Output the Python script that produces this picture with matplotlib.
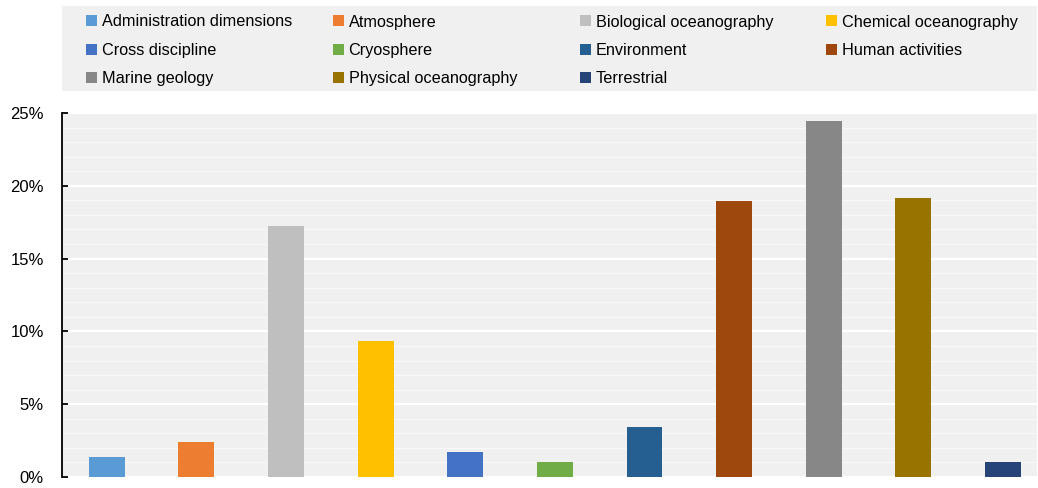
import matplotlib
matplotlib.use("Agg")
import matplotlib.pyplot as plt
from matplotlib.patches import Rectangle
from matplotlib.ticker import MultipleLocator, FuncFormatter

plt.rcParams["font.family"] = ["Liberation Sans", "DejaVu Sans"]

categorias = ["Administration dimensions", "Atmosphere", "Biological oceanography",
              "Chemical oceanography", "Cross discipline", "Cryosphere", "Environment",
              "Human activities", "Marine geology", "Physical oceanography", "Terrestrial"]
valores = [1.37, 2.4, 17.24, 9.34, 1.72, 1.03, 3.43, 18.96, 24.45, 19.16, 1.03]
colores = ["#5B9BD5", "#ED7D31", "#BFBFBF", "#FFC000", "#4472C4", "#70AD47",
           "#255E91", "#9E480E", "#878787", "#997300", "#264478"]

W, H = 1038, 488
fig = plt.figure(figsize=(W / 100, H / 100), dpi=100)
ax = fig.add_axes([62 / W, 1 - 477 / H, (1037 - 62) / W, (477 - 113) / H])

fondo = "#F0F0F0"
ax.set_facecolor(fondo)
barras = ax.bar(range(len(valores)), valores, width=0.40, color=colores, zorder=3)

ax.set_xlim(-0.5, 10.38)
ax.set_ylim(0, 25)
ax.yaxis.set_major_locator(MultipleLocator(5))
ax.yaxis.set_minor_locator(MultipleLocator(1))
ax.yaxis.set_major_formatter(FuncFormatter(lambda v, p: f"{v:.0f}%"))
ax.grid(which="major", axis="y", color="white", linewidth=1.6, zorder=1)
ax.grid(which="minor", axis="y", color="#F8F8F8", linewidth=1.0, zorder=1)
ax.set_axisbelow(True)
ax.set_xticks([])
for lado in ["top", "right", "bottom"]:
    ax.spines[lado].set_visible(False)
ax.spines["left"].set_linewidth(1.3)
ax.tick_params(axis="y", which="major", direction="in", length=4.5, width=1.3,
               labelsize=12, pad=13, colors="black")
ax.tick_params(axis="y", which="minor", length=0)

# caja gris de la leyenda
fig.patches.append(Rectangle((62 / W, 1 - 91 / H), (1037 - 62) / W, 85 / H,
                             transform=fig.transFigure, facecolor=fondo,
                             edgecolor="none", zorder=0))

# una leyenda por columna, con los elementos en orden por filas
x_columnas = [86, 333, 580, 826]
for j, xc in enumerate(x_columnas):
    idx = list(range(j, len(categorias), 4))
    fig.legend([barras[i] for i in idx], [categorias[i] for i in idx],
               loc="upper left", bbox_to_anchor=(xc / W, 1 - 14.5 / H),
               bbox_transform=fig.transFigure, frameon=False, fontsize=11.7,
               handlelength=0.66, handleheight=0.66, handletextpad=0.3,
               labelspacing=0.83, borderpad=0, borderaxespad=0)

fig.savefig("out.png", dpi=100)
